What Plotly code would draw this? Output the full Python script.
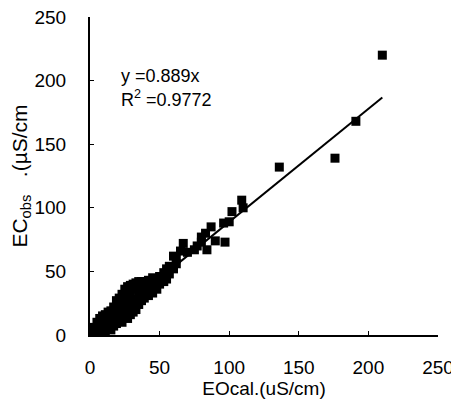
import numpy as np
import plotly.graph_objects as go

ec_cal = [3, 3, 5, 5, 7, 7, 7, 9, 9, 9, 11, 11, 11, 13, 13, 13, 15, 15, 15,
          17, 17, 17, 19, 19, 19, 21, 21, 21, 23, 23, 23, 23, 25, 25, 25, 25,
          27, 27, 27, 27, 29, 29, 29, 29, 31, 31, 31, 33, 33, 33, 33, 35, 35, 35,
          37, 37, 37, 39, 39, 39, 42, 42, 42, 45, 45, 45, 48, 48, 50, 50, 53, 53,
          55, 55, 57, 57, 60, 60, 62, 62, 65, 67, 70, 75, 77, 80, 80, 83, 84, 87,
          90, 96, 97, 100, 102, 109, 110, 136, 176, 191, 210]
ec_obs = [3, 6, 4, 10, 2, 8, 13, 5, 11, 15, 3, 9, 16, 6, 12, 18, 4, 10, 19,
          7, 14, 22, 9, 17, 27, 12, 20, 29, 10, 16, 24, 32, 14, 21, 30, 36,
          13, 19, 27, 38, 16, 24, 34, 39, 18, 28, 40, 20, 26, 36, 41, 24, 32, 42,
          27, 38, 42, 29, 35, 42, 31, 38, 43, 33, 40, 45, 36, 44, 40, 46, 42, 49,
          44, 52, 48, 54, 52, 62, 56, 60, 66, 72, 65, 67, 70, 73, 77, 80, 67, 85,
          74, 88, 73, 89, 97, 106, 100, 132, 139, 168, 220]

slope = 0.889
r2 = 0.9772
x_ticks = [0, 50, 100, 150, 200, 250]
y_ticks = [0, 50, 100, 150, 200, 250]

fx = np.array([min(ec_cal), max(ec_cal)])
fy = slope * fx

font = "Liberation Sans, Arial, sans-serif"

fig = go.Figure()
fig.add_trace(go.Scatter(x=ec_cal, y=ec_obs, mode="markers",
                         marker=dict(symbol="square", size=9, color="black"),
                         showlegend=False, cliponaxis=False))
fig.add_trace(go.Scatter(x=fx, y=fy, mode="lines",
                         line=dict(color="black", width=2), showlegend=False))

fig.add_annotation(x=21, y=204, xref="x", yref="y", text=f"y ={slope}x",
                   showarrow=False, xanchor="left", yanchor="middle",
                   font=dict(family=font, size=18, color="black"))
fig.add_annotation(x=21, y=186, xref="x", yref="y", text=f"R<sup>2</sup> ={r2}",
                   showarrow=False, xanchor="left", yanchor="middle",
                   font=dict(family=font, size=18, color="black"))

axis_common = dict(showgrid=False, zeroline=False, showline=True, linecolor="black",
                   linewidth=2, ticks="inside", ticklen=4, tickwidth=1, tickcolor="black",
                   tickfont=dict(family=font, size=19, color="black"), mirror=False,
                   ticklabeloverflow="allow", automargin=False)

fig.update_xaxes(range=[0, 250], tickvals=x_ticks, ticklabelstandoff=14,
                 title=dict(text="EOcal.(uS/cm)", font=dict(family=font, size=19, color="black"),
                            standoff=4),
                 **axis_common)
fig.update_yaxes(range=[0, 250], tickvals=y_ticks, ticklabelstandoff=18,
                 title=dict(text="EC<sub>obs</sub>   .(µS/cm", font=dict(family=font, size=21, color="black"),
                            standoff=3),
                 **axis_common)

fig.update_layout(width=451, height=399, margin=dict(l=82, r=21, t=9, b=72),
                  plot_bgcolor="white", paper_bgcolor="white")

fig.write_html("out.html")
